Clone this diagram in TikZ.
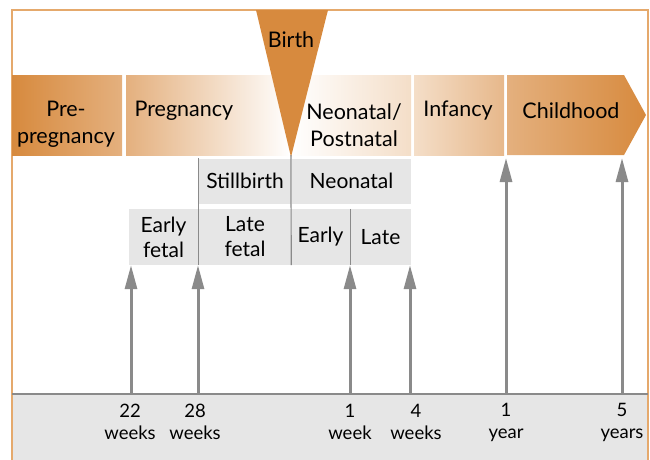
\documentclass[tikz,border=0pt]{standalone}
\usepackage{fontspec}
\setmainfont{Lato}
\usetikzlibrary{arrows.meta}

\definecolor{darkband}{HTML}{D78A3E}
\definecolor{midband}{HTML}{E4B07E}
\definecolor{paleband}{HTML}{F4DEC8}
\definecolor{framecol}{HTML}{E5A96C}
\definecolor{cellgray}{HTML}{E6E6E6}
\definecolor{arrowgray}{HTML}{8A8A8A}

\begin{document}
\begin{tikzpicture}[x=1pt,y=-1pt,
  bandtext/.style={font=\fontsize{21.5}{27}\selectfont, align=center},
  cell/.style={fill=cellgray, inner sep=0pt, align=center, font=\fontsize{21}{25}\selectfont},
  ticktext/.style={font=\fontsize{18.5}{22}\selectfont, align=center},
  up/.style={draw=arrowgray, line width=3pt, -{Triangle[length=24pt,width=12pt]}}]
\useasboundingbox (0,0) rectangle (650,459);

% Frame and time axis
\fill[cellgray] (12,395) rectangle (648,470);
\draw[framecol, line width=1.5pt] (12,10) rectangle (648,480);
\draw[arrowgray, line width=2.5pt] (12,394) -- (648,394);

% Stages
\shade[left color=darkband, right color=midband] (12,75) rectangle (122,155);
\shade[left color=midband, right color=white] (126,75) rectangle (291,155);
\shade[left color=white, right color=paleband] (291,75) rectangle (411,155);
\shade[left color=paleband, right color=midband!90!white] (414,75) rectangle (504,155);
\shade[left color=midband, right color=darkband] (507,75) -- (624,75) -- (646,115) -- (624,155) -- (507,155) -- cycle;

\node[bandtext] (prepreg) at (66,124) {Pre-\\pregnancy};
\node[bandtext, anchor=west] (preg) at (131,111) {Pregnancy};
\node[bandtext] (postnatal) at (354,125) {Neonatal/\\Postnatal};
\node[bandtext] (infancy) at (458,111) {Infancy};
\node[bandtext] (childhood) at (571,111) {Childhood};

% Birth
\fill[darkband] (256,10) -- (328,10) -- (291,157) -- cycle;
\node[bandtext] (birth) at (291,40) {Birth};

% Periods
\node[cell, minimum width=92pt, minimum height=45pt] (stillbirth) at (245,181) {Stillbirth};
\node[cell, minimum width=119pt, minimum height=45pt] (neonatal) at (351.5,181) {Neonatal};
\node[cell, minimum width=69pt, minimum height=56pt] (earlyfetal) at (163.5,237) {Early\\fetal};
\node[cell, minimum width=92pt, minimum height=56pt] (latefetal) at (245,237) {Late\\fetal};
\node[cell, minimum width=59pt, minimum height=56pt] (earlyneo) at (320.5,237) {Early};
\node[cell, minimum width=61pt, minimum height=56pt] (lateneo) at (380.5,237) {Late};

\draw[arrowgray, line width=1.2pt] (stillbirth.north west) -- (latefetal.south west);
\draw[arrowgray, line width=1.2pt] (291,155) -- (latefetal.south east);
\draw[arrowgray, line width=1.2pt] (earlyneo.north east) -- (earlyneo.south east);

% Time points
\coordinate (w22) at (131,394);
\coordinate (w28) at (198,394);
\coordinate (wk1) at (350,394);
\coordinate (wk4) at (410,394);
\coordinate (yr1) at (506,394);
\coordinate (yr5) at (622,394);
\coordinate (bandbottom) at (0,158);

\draw[up] (w22) -- (w22 |- earlyfetal.south);
\draw[up] (w28) -- (w28 |- latefetal.south);
\draw[up] (wk1) -- (wk1 |- earlyneo.south);
\draw[up] (wk4) -- (wk4 |- lateneo.south);
\draw[up] (yr1) -- (yr1 |- bandbottom);
\draw[up] (yr5) -- (yr5 |- bandbottom);

% Labels
\node[ticktext] (l22) at (130,422) {22\\weeks};
\node[ticktext] (l28) at (195,422) {28\\weeks};
\node[ticktext] (l1w) at (350,422) {1\\week};
\node[ticktext] (l4w) at (416,422) {4\\weeks};
\node[ticktext] (l1y) at (506,422) {1\\year};
\node[ticktext] (l5y) at (622,422) {5\\years};
\end{tikzpicture}
\end{document}
